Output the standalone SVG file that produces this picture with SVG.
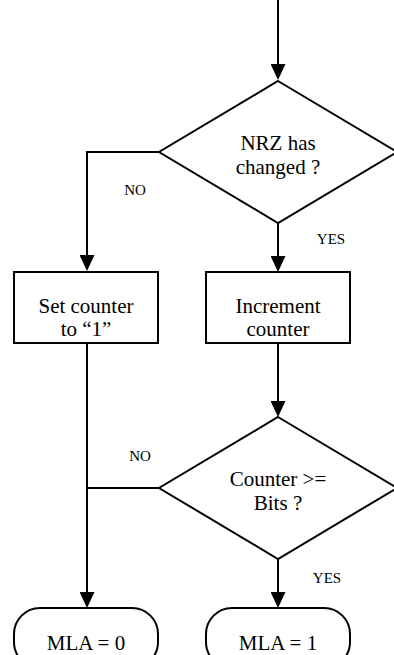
<svg xmlns="http://www.w3.org/2000/svg" width="394" height="655" viewBox="0 0 394 655">
<defs>
<marker id="arr" markerUnits="userSpaceOnUse" markerWidth="16" markerHeight="15" refX="0" refY="7.5" orient="auto">
<path d="M0,0 L16,7.5 L0,15 z" fill="#000"/>
</marker>
</defs>
<style>
.shape{fill:#fff;stroke:#000;stroke-width:2}
.conn{fill:none;stroke:#000;stroke-width:2}
.t{font-family:"Liberation Serif","Times New Roman",serif;font-size:21px;text-anchor:middle;fill:#000}
.lbl{font-family:"Liberation Serif","Times New Roman",serif;font-size:15px;text-anchor:middle;fill:#000}
</style>
<rect width="394" height="655" fill="#fff"/>
<g id="connectors">
<path class="conn" d="M278,0 V64" marker-end="url(#arr)"/>
<path class="conn" d="M159,152 H87 V255" marker-end="url(#arr)"/>
<path class="conn" d="M278,223 V256" marker-end="url(#arr)"/>
<path class="conn" d="M87,343 V592" marker-end="url(#arr)"/>
<path class="conn" d="M278,343 V401" marker-end="url(#arr)"/>
<path class="conn" d="M159,488 H87"/>
<path class="conn" d="M278,559 V592" marker-end="url(#arr)"/>
<text class="lbl" x="135" y="195">NO</text>
<text class="lbl" x="331" y="244">YES</text>
<text class="lbl" x="140" y="461">NO</text>
<text class="lbl" x="327" y="583">YES</text>
</g>
<g id="nrz-changed">
<polygon class="shape" points="278,81 397,152 278,223 159,152"/>
<text class="t" x="278" y="150">NRZ has</text>
<text class="t" x="278" y="174">changed ?</text>
</g>
<g id="set-counter">
<rect class="shape" x="14" y="272" width="144" height="71"/>
<text class="t" x="86" y="313">Set counter</text>
<text class="t" x="86" y="336">to “1”</text>
</g>
<g id="increment-counter">
<rect class="shape" x="206" y="272" width="144" height="71"/>
<text class="t" x="278" y="313">Increment</text>
<text class="t" x="278" y="336">counter</text>
</g>
<g id="counter-bits">
<polygon class="shape" points="278,417 397,488 278,559 159,488"/>
<text class="t" x="278" y="486">Counter &gt;=</text>
<text class="t" x="278" y="510">Bits ?</text>
</g>
<g id="mla0">
<rect class="shape" x="14" y="608" width="144" height="60" rx="26" ry="26"/>
<text class="t" x="86" y="650">MLA = 0</text>
</g>
<g id="mla1">
<rect class="shape" x="206" y="608" width="144" height="60" rx="26" ry="26"/>
<text class="t" x="278" y="650">MLA = 1</text>
</g>
</svg>
